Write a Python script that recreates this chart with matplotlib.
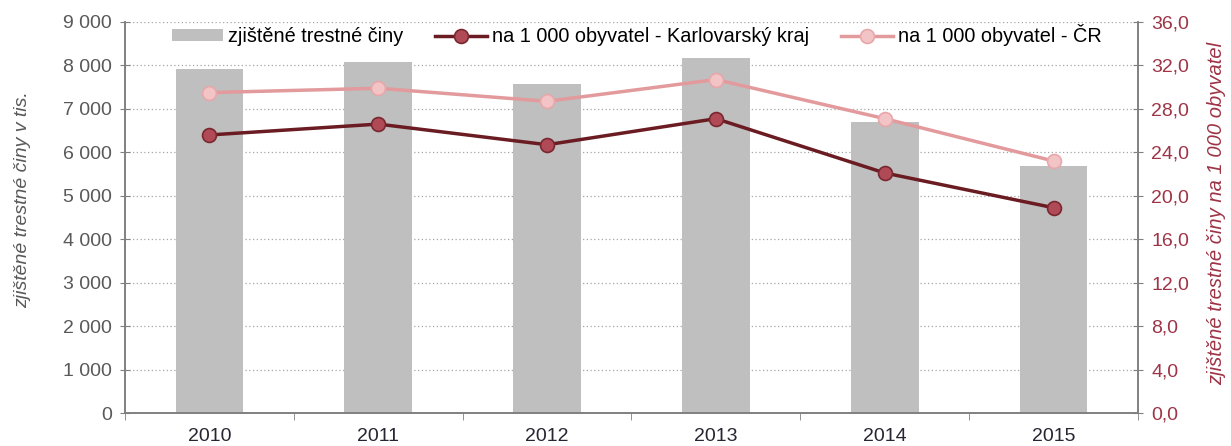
import matplotlib
matplotlib.use("Agg")
import matplotlib.pyplot as plt
from matplotlib.ticker import FuncFormatter, MultipleLocator

plt.rcParams['font.family'] = ['Liberation Sans', 'DejaVu Sans']

years = ["2010", "2011", "2012", "2013", "2014", "2015"]
crimes = [7910, 8080, 7565, 8180, 6700, 5680]
rate_kv = [25.6, 26.6, 24.7, 27.1, 22.1, 18.9]
rate_cr = [29.5, 29.9, 28.7, 30.7, 27.1, 23.2]

bar_label = "zjištěné trestné činy"
kv_label = "na 1 000 obyvatel - Karlovarský kraj"
cr_label = "na 1 000 obyvatel - ČR"
left_ylabel = "zjištěné trestné činy v tis."
right_ylabel = "zjištěné trestné činy na 1 000 obyvatel"

W, H = 1231, 446
fig = plt.figure(figsize=(W / 100, H / 100), dpi=100)
ax = fig.add_axes([125 / W, 1 - 413 / H, (1138 - 125) / W, (413 - 22) / H])
ax2 = ax.twinx()

x = list(range(len(years)))
ax.bar(x, crimes, width=0.4, color="#bfbfbf", label=bar_label, zorder=2)
ax.set_xlim(-0.5, len(years) - 0.5)
ax.set_ylim(0, 9000)
ax.yaxis.set_major_locator(MultipleLocator(1000))
ax.yaxis.set_major_formatter(FuncFormatter(lambda v, p: f"{int(v):,}".replace(",", " ")))
ax.grid(axis="y", linestyle=(0, (1, 2)), color="#a6a6a6", linewidth=0.9, zorder=0)
ax.set_axisbelow(True)

kv_line, = ax2.plot(x, rate_kv, color="#6b1c22", linewidth=2.5, marker="o", markersize=10,
                    markerfacecolor="#b04a57", markeredgecolor="#7a2830", markeredgewidth=1.2,
                    label=kv_label, zorder=4)
cr_line, = ax2.plot(x, rate_cr, color="#e39a9c", linewidth=2.5, marker="o", markersize=10,
                    markerfacecolor="#f2c4c6", markeredgecolor="#e8a7aa", markeredgewidth=1.2,
                    label=cr_label, zorder=3)
ax2.set_ylim(0, 36)
ax2.yaxis.set_major_locator(MultipleLocator(4))
ax2.yaxis.set_major_formatter(FuncFormatter(lambda v, p: f"{v:.1f}".replace(".", ",")))

ax.set_xticks(x)
ax.set_xticklabels(years)
ax.set_xticks([i + 0.5 for i in range(-1, len(years))], minor=True)
ax.tick_params(axis="x", which="major", length=0, labelsize=14, labelcolor="#262633", pad=11)
ax.tick_params(axis="x", which="minor", length=5, color="#808080", direction="out")
ax.tick_params(axis="y", length=7, color="#808080", direction="inout", labelsize=14,
               labelcolor="#595959", pad=6)
ax2.tick_params(axis="y", length=7, color="#808080", direction="inout", labelsize=14,
                labelcolor="#9e3446", pad=6)

for a in (ax, ax2):
    a.spines["top"].set_visible(False)
    for s in ("left", "right", "bottom"):
        a.spines[s].set_color("#808080")
        a.spines[s].set_linewidth(1.2)

ax.set_ylabel(left_ylabel, fontsize=14, style="italic", color="#595959")
ax.yaxis.set_label_coords(-0.093, 0.545)
ax2.set_ylabel(right_ylabel, fontsize=14.5, style="italic", color="#9e3446", rotation=90)
ax2.yaxis.set_label_coords(1.068, 0.51)

handles = [ax.patches[0], kv_line, cr_line]
ax.legend(handles, [bar_label, kv_label, cr_label], loc="upper center",
          bbox_to_anchor=(0.505, 1.04), ncol=3, frameon=False, fontsize=14.3,
          handlelength=2.6, handleheight=0.55, handletextpad=0.25, columnspacing=1.6)

fig.savefig("out.png", dpi=100)
